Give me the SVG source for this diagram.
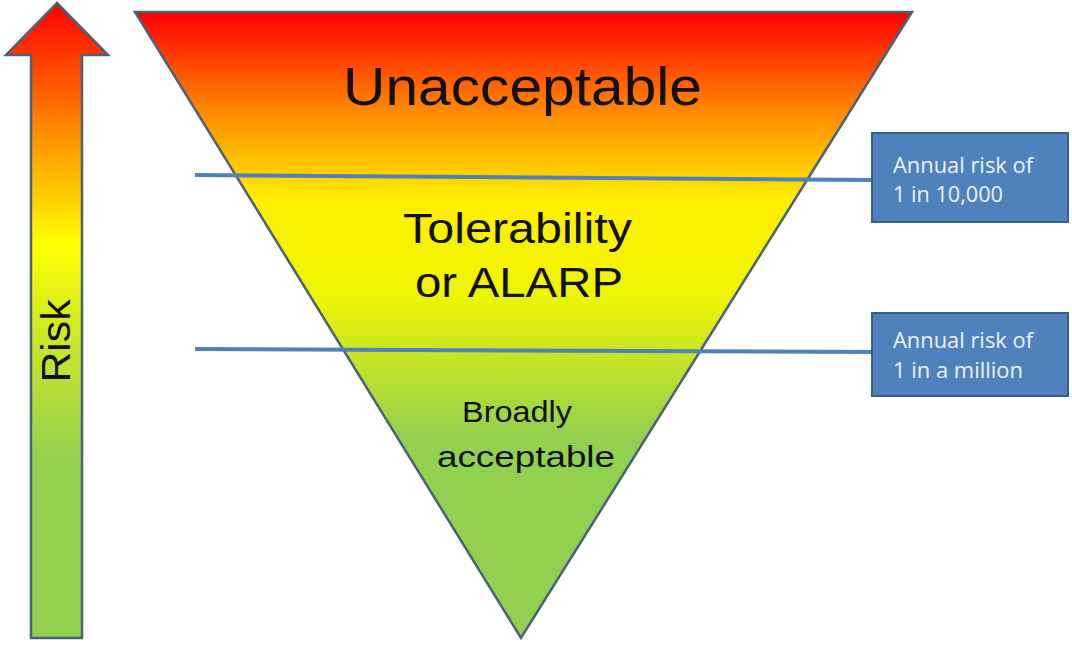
<svg xmlns="http://www.w3.org/2000/svg" width="1072" height="645" viewBox="0 0 1072 645">
<defs>
<linearGradient id="gTri" gradientUnits="userSpaceOnUse" x1="0" y1="12" x2="0" y2="638">
<stop offset="0" stop-color="#ff0000"/>
<stop offset="0.16" stop-color="#ff8a00"/>
<stop offset="0.3" stop-color="#ffee00"/>
<stop offset="0.45" stop-color="#eef500"/>
<stop offset="0.68" stop-color="#92d050"/>
<stop offset="1" stop-color="#92d050"/>
</linearGradient>
<linearGradient id="gArrow" gradientUnits="userSpaceOnUse" x1="0" y1="3" x2="0" y2="638">
<stop offset="0" stop-color="#ff0000"/>
<stop offset="0.2" stop-color="#ff8a00"/>
<stop offset="0.38" stop-color="#ffff00"/>
<stop offset="0.5" stop-color="#d4eb20"/>
<stop offset="0.72" stop-color="#92d050"/>
<stop offset="1" stop-color="#92d050"/>
</linearGradient>
<style>
.shape{stroke:#4a6178;stroke-width:2.5;stroke-linejoin:miter}
.lbl{font-family:"Liberation Sans",Arial,sans-serif;fill:#111;text-anchor:middle}
.box{fill:#4f81bd;stroke:#385d8a;stroke-width:2}
.boxt{font-family:"Open Sans","Liberation Sans",sans-serif;font-size:21px;fill:#eef3fa}
.conn{stroke:#4f81bd;stroke-width:4;fill:none}
</style>
</defs>
<g id="risk-arrow">
<polygon class="shape" fill="url(#gArrow)" points="57,3 108,55 82,55 82,638 31,638 31,55 6,55"/>
<text class="lbl" font-size="41" transform="translate(70,341) rotate(-90)" textLength="83" lengthAdjust="spacingAndGlyphs">Risk</text>
</g>
<g id="triangle">
<polygon class="shape" fill="url(#gTri)" points="135,12 912,12 521,638"/>
</g>
<g id="unacceptable"><text class="lbl" font-size="53" x="522.5" y="105" textLength="359" lengthAdjust="spacingAndGlyphs">Unacceptable</text></g>
<g id="alarp">
<text class="lbl" font-size="42" x="517.5" y="243" textLength="229" lengthAdjust="spacingAndGlyphs">Tolerability</text>
<text class="lbl" font-size="42" x="519" y="297" textLength="208" lengthAdjust="spacingAndGlyphs">or ALARP</text>
</g>
<g id="broadly">
<text class="lbl" font-size="30" x="517" y="422" textLength="110" lengthAdjust="spacingAndGlyphs">Broadly</text>
<text class="lbl" font-size="30" x="526" y="467" textLength="178" lengthAdjust="spacingAndGlyphs">acceptable</text>
</g>
<g id="connectors">
<line class="conn" x1="195" y1="175" x2="874" y2="180"/>
<line class="conn" x1="195" y1="349" x2="874" y2="352"/>
</g>
<g id="box-10000">
<rect class="box" x="872" y="133" width="196" height="89"/>
<text class="boxt" x="893" y="173" textLength="140" lengthAdjust="spacingAndGlyphs">Annual risk of</text>
<text class="boxt" x="893" y="202" textLength="110" lengthAdjust="spacingAndGlyphs">1 in 10,000</text>
</g>
<g id="box-million">
<rect class="box" x="872" y="313" width="196" height="83"/>
<text class="boxt" x="893" y="348" textLength="140" lengthAdjust="spacingAndGlyphs">Annual risk of</text>
<text class="boxt" x="893" y="378" textLength="130" lengthAdjust="spacingAndGlyphs">1 in a million</text>
</g>
</svg>
